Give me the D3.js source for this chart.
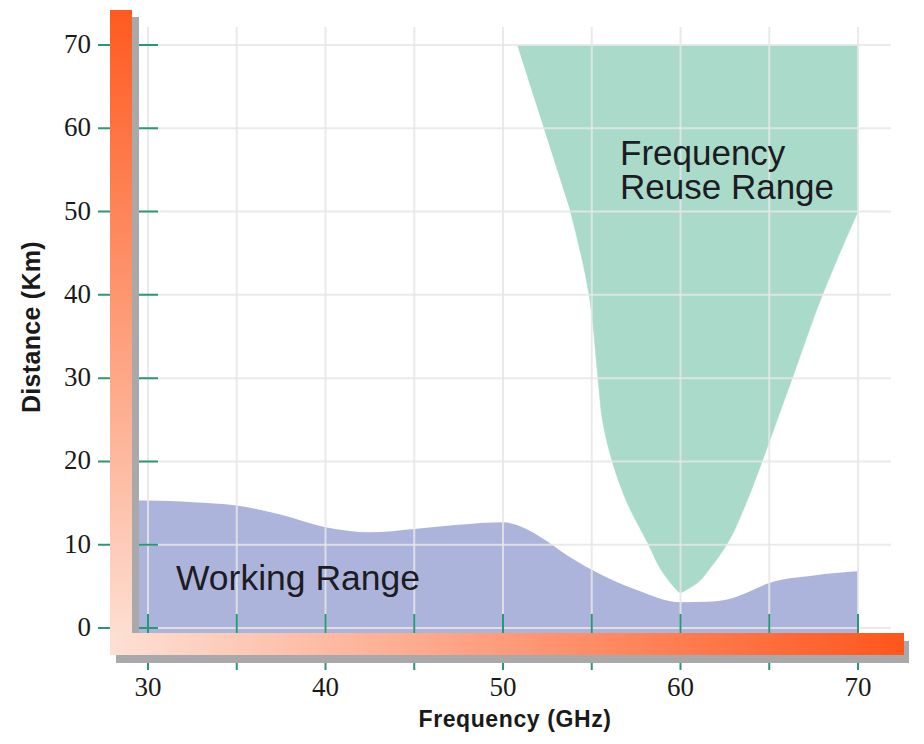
<!DOCTYPE html>
<html><head><meta charset="utf-8">
<script src="https://cdn.jsdelivr.net/npm/d3@7"></script>
<style>
html,body{margin:0;padding:0;background:#fff;}
svg{display:block;}
</style></head>
<body>
<svg id="chart" width="924" height="744"></svg>
<script>
// ---- data ----
const xTicks = [30, 35, 40, 45, 50, 55, 60, 65, 70];
const xTickLabels = ["30", "", "40", "", "50", "", "60", "", "70"];
const yTicks = [0, 10, 20, 30, 40, 50, 60, 70];
const yTickLabels = ["0", "10", "20", "30", "40", "50", "60", "70"];

// Working range (frequency GHz -> distance km)
const workFreq = [29.0, 30, 32.5, 35, 37.5, 40, 42.5, 45, 47.5, 50, 51, 52.5, 53.5, 55, 57.5, 60, 61.5, 62.7, 63.7, 65, 67.5, 70];
const workDist = [15.3, 15.3, 15.1, 14.7, 13.6, 12.1, 11.5, 11.9, 12.4, 12.7, 12.2, 10.4, 8.9, 7.0, 4.6, 3.1, 3.15, 3.45, 4.2, 5.4, 6.3, 6.8];
const workBase = -0.6;

// Frequency reuse range (distance km -> left / right frequency GHz)
const reuseDist = [70, 60, 50, 40, 30, 25, 20, 15, 10, 7, 5.5, 4.3];
const reuseLeft = [50.8, 52.3, 53.8, 54.85, 55.35, 55.6, 56.15, 57.0, 58.2, 58.9, 59.4, 59.9];
const reuseRight = [70, 70, 70, 68.0, 66.3, 65.45, 64.6, 63.7, 62.6, 61.6, 61.0, 60.1];

const svg = d3.select("#chart");
const x = d3.scaleLinear().domain([30, 70]).range([148, 858]);
const y = d3.scaleLinear().domain([0, 70]).range([628, 45]);

const defs = svg.append("defs");
const gv = defs.append("linearGradient").attr("id", "gv").attr("x1", 0).attr("y1", 0).attr("x2", 0).attr("y2", 1);
gv.append("stop").attr("offset", "0%").attr("stop-color", "#ff5a1f");
gv.append("stop").attr("offset", "100%").attr("stop-color", "#fde2d7");
const gh = defs.append("linearGradient").attr("id", "gh").attr("x1", 0).attr("y1", 0).attr("x2", 1).attr("y2", 0);
gh.append("stop").attr("offset", "0%").attr("stop-color", "#fde0d4");
gh.append("stop").attr("offset", "100%").attr("stop-color", "#ff561c");

// areas
const work = workFreq.map((f, i) => ({f, d: workDist[i]}));
svg.append("path").datum(work)
  .attr("fill", "#adb4dc")
  .attr("d", d3.area().x(d => x(d.f)).y0(y(workBase)).y1(d => y(d.d)).curve(d3.curveMonotoneX));

const reuse = reuseDist.map((d, i) => ({d, l: reuseLeft[i], r: reuseRight[i]}));
const reuseArea = d3.area().y(d => y(d.d)).x0(d => x(d.l)).x1(d => x(d.r)).curve(d3.curveMonotoneY);
// upper part (vertical right edge) and lower part (sloping right edge), joined at 50 km
const split = reuseDist.indexOf(50);
svg.append("path").datum(reuse.slice(0, split + 1)).attr("fill", "#aadbca").attr("d", reuseArea);
svg.append("path").datum(reuse.slice(split)).attr("fill", "#aadbca").attr("d", reuseArea)
  .attr("stroke", "#aadbca").attr("stroke-width", 0.5);

// gridlines (on top of areas)
const grid = svg.append("g").attr("stroke", "#e6e6e6").attr("stroke-opacity", 0.85).attr("stroke-width", 2);
grid.selectAll("line.v").data(xTicks).join("line")
  .attr("x1", d => x(d)).attr("x2", d => x(d)).attr("y1", 27).attr("y2", 634);
grid.selectAll("line.h").data(yTicks).join("line")
  .attr("x1", 136).attr("x2", 891).attr("y1", d => y(d)).attr("y2", d => y(d));

// green ticks
const ticks = svg.append("g").attr("stroke", "#2a9778").attr("stroke-width", 2);
ticks.selectAll("line.y").data(yTicks).join("line")
  .attr("x1", 98).attr("x2", 158).attr("y1", d => y(d)).attr("y2", d => y(d));
ticks.selectAll("line.x").data(xTicks).join("line")
  .attr("x1", d => x(d)).attr("x2", d => x(d)).attr("y1", 614).attr("y2", 670);

// axis bars with shadows
svg.append("rect").attr("x", 117).attr("y", 17).attr("width", 22).attr("height", 645).attr("fill", "#a9a9ab");
svg.append("rect").attr("x", 116).attr("y", 641).attr("width", 793).attr("height", 22).attr("fill", "#a9a9ab");
svg.append("rect").attr("x", 110).attr("y", 10).attr("width", 22).attr("height", 645).attr("fill", "url(#gv)");
svg.append("rect").attr("x", 110).attr("y", 633).attr("width", 794).attr("height", 22).attr("fill", "url(#gh)");

// tick labels
const numFont = "'Liberation Serif', 'DejaVu Serif', serif";
svg.append("g").selectAll("text").data(yTicks).join("text")
  .attr("x", 91).attr("y", d => y(d) + 8)
  .attr("text-anchor", "end")
  .attr("font-family", numFont).attr("font-size", 27).attr("fill", "#1a1a1a")
  .style("font-variant-numeric", "oldstyle-nums")
  .text((d, i) => yTickLabels[i]);
svg.append("g").selectAll("text").data(xTicks).join("text")
  .attr("x", d => x(d)).attr("y", 696)
  .attr("text-anchor", "middle")
  .attr("font-family", numFont).attr("font-size", 27).attr("fill", "#1a1a1a")
  .style("font-variant-numeric", "oldstyle-nums")
  .text((d, i) => xTickLabels[i]);

// axis titles
svg.append("text").attr("x", 515).attr("y", 727).attr("text-anchor", "middle")
  .attr("font-family", "'Liberation Sans', Arial, sans-serif").attr("font-weight", "bold").attr("font-size", 23)
  .attr("letter-spacing", 0.6)
  .attr("fill", "#1a1a1a").text("Frequency (GHz)");
svg.append("text").attr("transform", "translate(40,327) rotate(-90)").attr("text-anchor", "middle")
  .attr("font-family", "'Liberation Sans', Arial, sans-serif").attr("font-weight", "bold").attr("font-size", 25)
  .attr("letter-spacing", 0.3)
  .attr("fill", "#1a1a1a").text("Distance (Km)");

// area labels
const lblFont = "'Liberation Sans', Arial, sans-serif";
svg.append("text").attr("x", 176).attr("y", 590)
  .attr("font-family", lblFont).attr("font-size", 35.5).attr("fill", "#1c1c22").text("Working Range");
svg.append("text").attr("x", 620).attr("y", 165)
  .attr("font-family", lblFont).attr("font-size", 35).attr("fill", "#1c1c22").text("Frequency");
svg.append("text").attr("x", 620).attr("y", 199)
  .attr("font-family", lblFont).attr("font-size", 35).attr("fill", "#1c1c22").text("Reuse Range");
</script>
</body></html>
